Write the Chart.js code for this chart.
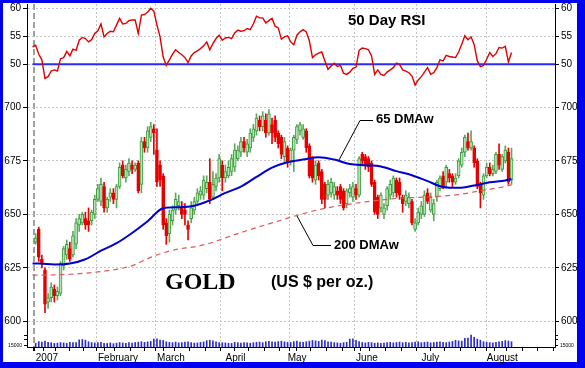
<!DOCTYPE html>
<html>
<head>
<meta charset="utf-8">
<script src="https://cdn.jsdelivr.net/npm/chart.js@4.4.0/dist/chart.umd.min.js"></script>
<style>
  html, body { margin: 0; padding: 0; background: #fff; }
  #wrap { width: 585px; height: 368px; }
</style>
</head>
<body>
<div id="wrap"><canvas id="gold" width="585" height="368"></canvas></div>
<script>
// trading day index: 0 = first session of 2007, candles start one day earlier
const firstDay = -1;
const opens = [637,643,629,624,609,611,615,612,613,626, 631,634,631,636,645,646,648,647,647,650,
  657,656,663,653,658,660,657,663,673,667, 670,673,671,674,664,684,681,686,690,680,
  673,668,646,641,647,652,654,653,652,645, 648,652,656,659,659,662,665,658,663,667,
  673,667,668,670,672,676,679,684,679,681, 686,689,694,691,694,688,692,694,688,686,
  677,681,675,680,685,689,686,689,682,676, 666,674,670,664,659,660,659,661,663,661,
  655,660,658,662,659,678,677,676,674,665, 658,653,650,654,659,660,666,665,658,656,
  655,656,643,646,650,650,660,652,650,658, 662,668,665,669,668,665,668,673,679,684,
  681,681,675,664,659,668,672,669,670,678, 671,675,679,666];
const highs = [641,644,631,625,613,618,617,616,628,635, 638,637,642,648,650,651,651,653,652,659,
  664,667,665,658,662,662,664,674,675,673, 676,675,674,675,686,686,691,693,692,690,
  675,669,648,652,654,660,659,656,655,647, 656,658,662,663,668,668,676,670,669,678,
  675,673,675,678,683,682,686,686,685,690, 692,697,696,698,697,699,695,696,689,687,
  686,682,681,687,692,693,692,690,683,677, 675,675,671,665,666,667,665,663,664,662,
  662,664,665,664,677,679,678,677,675,666, 659,660,655,663,666,668,667,667,659,661,
  660,657,648,653,656,661,662,660,657,666, 668,670,673,671,669,669,676,681,687,688,
  689,682,676,665,669,674,674,673,679,683, 678,682,681,681];
const lows = [636,628,625,604,606,609,609,610,612,624, 629,628,630,634,642,645,643,642,645,648,
  656,654,651,651,656,655,653,662,667,665, 668,669,670,660,660,679,679,684,678,663,
  663,643,636,637,645,650,652,648,645,638, 646,650,654,657,657,660,655,657,661,665,
  661,665,667,668,670,675,677,679,677,679, 684,687,689,689,686,687,683,684,681,676,
  674,672,673,670,683,687,685,679,667,665, 664,666,655,653,657,658,657,657,655,652,
  653,658,656,657,658,673,671,670,663,650, 648,651,648,652,657,658,658,657,651,654,
  653,645,642,645,648,649,655,651,647,656, 661,662,663,665,663,664,667,672,677,680,
  680,672,662,653,657,667,668,668,669,671, 670,674,664,664];
const closes = [639,630,627,608,611,616,612,614,627,634, 636,629,640,646,648,650,645,645,651,657,
  662,664,653,657,660,657,663,672,668,671, 674,671,673,661,684,681,689,691,688,665,
  666,645,640,650,652,657,656,650,650,643, 653,656,660,661,666,665,657,664,667,676,
  667,670,672,676,680,680,684,681,683,688, 690,695,691,696,688,697,688,686,683,678,
  684,674,680,686,691,692,690,681,668,667, 673,668,657,657,664,665,663,659,657,653,
  661,662,663,659,676,675,673,672,664,651, 650,659,653,662,664,667,660,659,655,659,
  658,646,646,651,654,659,656,658,655,665, 667,663,672,667,665,667,675,679,686,681,
  684,674,663,660,668,672,669,671,678,673, 677,680,665,676];
// volume, thousands of contracts
const volume = [50,72,64,80,62,58,48,52,60,55, 50,62,58,60,95,100,92,70,60,55,
  58,62,50,48,55,45,52,60,55,48, 58,52,60,64,70,62,68,75,105,110,
  92,88,70,62,58,66,55,60,64,70, 58,52,55,62,68,85,90,82,70,60,
  58,55,50,48,62,58,52,60,55,50, 58,62,66,58,70,75,68,64,72,78,
  70,62,60,72,80,66,62,70,78,88, 82,75,92,85,70,64,58,55,50,58,
  62,105,110,90,72,60,55,62,58,50, 55,48,52,58,62,55,60,66,58,62,
  55,60,64,70,58,62,66,55,60,64, 70,62,58,66,75,90,82,78,115,120,
  160,130,105,90,70,62,58,55,62,70, 75,85,80,70];

const rsiFirstDay = -2;
const rsi = [53.1,53.4,51.8,50.8,47.5,47.8,48.8,49.0,48.8,51.0,
  51.2,52.3,51.5,52.7,52.5,54.3,54.8,54.6,54.0,54.4,
  55.5,56.0,57.2,54.9,55.5,55.9,55.8,57.0,58.2,57.2,
  57.3,57.8,57.9,57.9,55.5,58.8,58.9,59.3,60.0,59.5,
  57.0,54.9,51.3,49.8,50.8,51.8,52.6,52.1,51.7,51.2,
  50.3,51.5,52.1,52.4,52.8,53.3,54.0,52.6,53.7,54.6,
  55.2,54.3,54.7,54.8,54.6,55.6,56.1,55.9,56.0,56.4,
  56.2,57.2,58.6,58.3,58.3,57.4,57.8,58.2,56.8,56.5,
  54.5,54.9,55.1,54.0,53.5,55.2,55.8,56.2,55.8,54.2,
  51.2,51.7,52.0,52.2,50.6,49.1,49.7,50.2,49.6,49.8,
  48.4,48.2,48.6,49.3,49.5,52.5,52.9,52.8,52.6,51.5,
  48.2,49.0,48.2,48.0,48.6,49.0,49.4,50.2,50.0,49.0,
  48.8,48.5,47.9,46.3,47.2,47.8,48.6,49.4,48.2,48.5,
  49.4,50.8,50.6,51.6,51.4,51.3,51.2,52.2,53.6,55.1,
  54.4,54.9,53.5,50.6,49.6,49.8,50.9,52.1,51.4,51.9,
  53.0,52.9,53.2,50.4,52.1];
const rsiMid = 50;

const maDays = [-2,0,5,10,15,20,25,30,35,40,45,50,55,60,65,70,75,80,85,90,95,100,105,110,115,120,125,130,135,140,145,150,152];
const ma65 = [627,627,626.6,627,629,633,636.5,641.3,646.8,652.8,653.3,654,656.5,660,663,667.5,671.8,674.3,675.6,676.7,675.6,673.5,672.9,672.4,670.2,668.3,665.5,662.8,662.4,663.5,665,665.8,666.5];
const ma200 = [621.6,621.6,621.7,622,622.5,623.3,624.3,626,629.3,632,633.8,634.8,636.5,639,641.5,643.8,646,648.2,650.3,652.2,653.6,654.8,655.8,656.7,657.4,657.8,658.1,658.6,659.2,660.5,661.8,663,663.8];

const monthDays = [0, 20, 39, 61, 81, 103, 124, 145];
const monthLabels = ['2007', 'February', 'March', 'April', 'May', 'June', 'July', 'August'];
const weekDays = [3,8,12,17,22,27,32,36,41,46,51,56,65,70,75,80,85,90,95,100,104,109,114,119,128,133,138,143,148,153,158,163];
const priceTicks = [600, 625, 650, 675, 700];
const rsiTicks = [50, 55, 60];
const volTicks = [15, 100, 150];

const day = k => firstDay + k;
const isUp = k => closes[k] >= opens[k];
const GREEN = '#3c9c3c', LIGHTGREEN = '#b8e4b8', RED = '#e60000';
const tickFont = { family: 'Liberation Sans, Arial, sans-serif', size: 10 };

const noPad = s => { s.paddingTop = 0; s.paddingBottom = 0; s.paddingLeft = 0; s.paddingRight = 0; };

function yAxis(side, kind) {
  const main = kind === 'price';
  const vals = kind === 'price' ? priceTicks : kind === 'rsi' ? rsiTicks : volTicks;
  const range = kind === 'price' ? [588, 748.3] : kind === 'rsi' ? [-0.49, 60.77] : [0, 4573];
  return {
    type: 'linear',
    position: side,
    weight: main ? 10 : 0,
    min: range[0],
    max: range[1],
    afterBuildTicks: s => { s.ticks = vals.map(v => ({ value: v })); },
    afterFit: s => { s.width = main ? (side === 'left' ? 27 : 30) : 0; noPad(s); },
    grid: {
      color: '#c4c4c4',
      drawOnChartArea: side === 'left' && kind !== 'vol',
      tickColor: '#000',
      tickLength: kind === 'vol' ? 3 : 4
    },
    border: { color: '#000', dash: [2, 2] },
    ticks: {
      color: '#000',
      padding: 2,
      font: kind === 'vol' ? { family: 'Liberation Sans, Arial, sans-serif', size: 5 } : tickFont,
      callback: v => kind === 'vol' ? (v === 15 ? '15000' : '') : String(v)
    }
  };
}

const decor = {
  id: 'decor',
  afterLayout(chart) {
    // the zero-width panels share the label column of the price axes
    ['rsi', 'vol'].forEach(id => { chart.scales[id].left = 0; });
    ['rsiR', 'volR'].forEach(id => { chart.scales[id].right = chart.width; });
  },
  beforeDraw(chart) {
    const c = chart.ctx;
    c.save();
    c.fillStyle = '#0000f0';
    c.fillRect(0, 0, chart.width, chart.height);
    c.fillStyle = '#ffffff';
    c.fillRect(3, 3, 574, 359);
    c.restore();
  },
  afterDraw(chart) {
    const c = chart.ctx;
    c.save();
    c.fillStyle = '#000';
    c.textBaseline = 'middle';
    c.textAlign = 'left';
    c.font = 'bold 15px "Liberation Sans", Arial, sans-serif';
    c.fillText('50 Day RSI', 348, 21);
    c.font = 'bold 13px "Liberation Sans", Arial, sans-serif';
    c.fillText('65 DMAw', 376, 119);
    c.fillText('200 DMAw', 334, 245);
    c.font = 'bold 24px "Liberation Serif", "Times New Roman", serif';
    c.fillText('GOLD', 165, 283);
    c.font = 'bold 16px "Liberation Sans", Arial, sans-serif';
    c.fillText('(US $ per oz.)', 271, 283);
    c.strokeStyle = '#000';
    c.lineWidth = 1;
    c.beginPath();
    c.moveTo(373, 120.5); c.lineTo(360, 120.5); c.lineTo(339, 160);
    c.moveTo(331, 245.5); c.lineTo(313, 245.5); c.lineTo(297, 216);
    c.stroke();
    c.restore();
  }
};

new Chart(document.getElementById('gold'), {
  type: 'bar',
  data: {
    datasets: [
      {
        type: 'line', label: 'RSI', yAxisID: 'rsi', order: 0,
        data: rsi.map((v, k) => ({ x: rsiFirstDay + k, y: v })),
        borderColor: '#e00000', borderWidth: 1.4, pointRadius: 0, tension: 0
      },
      {
        type: 'line', label: 'RSI 50', yAxisID: 'rsi', order: 1,
        data: [{ x: -2, y: rsiMid }, { x: 166, y: rsiMid }],
        borderColor: '#2b2bff', borderWidth: 2, pointRadius: 0
      },
      {
        type: 'line', label: '65 DMAw', yAxisID: 'price', order: 1,
        data: maDays.map((d, k) => ({ x: d, y: ma65[k] })),
        borderColor: '#0000d0', borderWidth: 2, pointRadius: 0, cubicInterpolationMode: 'monotone'
      },
      {
        type: 'line', label: '200 DMAw', yAxisID: 'price', order: 2,
        data: maDays.map((d, k) => ({ x: d, y: ma200[k] })),
        borderColor: '#e05a5a', borderWidth: 1.2, borderDash: [5, 4], pointRadius: 0, cubicInterpolationMode: 'monotone'
      },
      {
        label: 'body', yAxisID: 'price', order: 3, grouped: false,
        data: opens.map((o, k) => ({ x: day(k), y: [o, closes[k]] })),
        barThickness: 3, minBarLength: 1, borderWidth: 1, borderSkipped: false,
        backgroundColor: c => isUp(c.dataIndex) ? LIGHTGREEN : RED,
        borderColor: c => isUp(c.dataIndex) ? GREEN : RED
      },
      {
        label: 'wick', yAxisID: 'price', order: 4, grouped: false,
        data: highs.map((h, k) => ({ x: day(k), y: [lows[k], h] })),
        barThickness: 1, borderWidth: 0,
        backgroundColor: c => isUp(c.dataIndex) ? '#5aaa5a' : RED
      },
      {
        label: 'volume', yAxisID: 'vol', order: 5, grouped: false,
        data: volume.map((v, k) => ({ x: day(k), y: v })),
        barThickness: 1, borderWidth: 0, backgroundColor: '#2c2cc8'
      }
    ]
  },
  options: {
    responsive: false,
    animation: false,
    events: [],
    layout: { padding: { top: 4, left: 0, right: 0, bottom: 0 } },
    plugins: { legend: { display: false }, tooltip: { enabled: false } },
    scales: {
      x: {
        type: 'linear',
        min: -1.66,
        max: 163.86,
        afterBuildTicks: s => {
          s.ticks = [...new Set([...weekDays, ...monthDays])].sort((a, b) => a - b).map(v => ({ value: v }));
        },
        afterFit: s => { s.height = 21; noPad(s); },
        grid: {
          color: c => !c.tick || !monthDays.includes(c.tick.value) ? 'rgba(0,0,0,0)' : (c.tick.value === 0 ? '#a0a0a0' : '#c4c4c4'),
          lineWidth: c => c.tick && c.tick.value === 0 ? 2 : 1,
          tickColor: '#000',
          tickLength: 4
        },
        border: { color: '#000', dash: c => c.tick && c.tick.value === 0 ? [6, 3] : [2, 2] },
        ticks: {
          autoSkip: false, maxRotation: 0, align: 'start', padding: 1, labelOffset: -3,
          color: '#000', font: tickFont,
          callback: v => { const m = monthDays.indexOf(v); return m >= 0 ? monthLabels[m] : ''; }
        }
      },
      price: yAxis('left', 'price'),
      priceR: yAxis('right', 'price'),
      rsi: yAxis('left', 'rsi'),
      rsiR: yAxis('right', 'rsi'),
      vol: yAxis('left', 'vol'),
      volR: yAxis('right', 'vol')
    }
  },
  plugins: [decor]
});
</script>
</body>
</html>
